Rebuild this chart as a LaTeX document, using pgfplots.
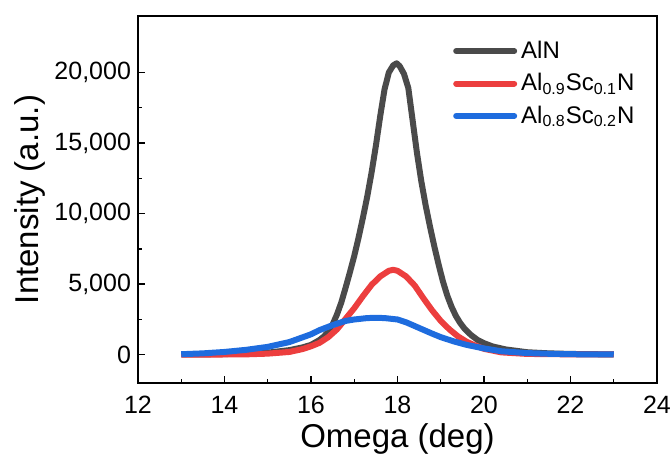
\documentclass[border=0pt]{standalone}
\usepackage{pgfplots}
\pgfplotsset{compat=1.18}
\usepackage{fontspec}
\setmainfont{Liberation Sans}

\definecolor{alnblack}{RGB}{74,74,74}
\definecolor{scred}{RGB}{236,62,62}
\definecolor{scblue}{RGB}{30,108,222}

\pgfplotstableread{
x y
13.0 20
13.5 30
14.0 50
14.5 80
15.0 150
15.5 330
15.8 520
16.0 700
16.2 1050
16.3 1300
16.4 1650
16.5 2150
16.6 2850
16.7 3700
16.8 4750
16.9 5850
17.0 7000
17.1 8300
17.2 9700
17.3 11200
17.4 12900
17.5 14800
17.6 16900
17.7 18800
17.8 20000
17.9 20500
17.98 20650
18.05 20450
18.15 19900
18.25 18900
18.35 16600
18.45 14300
18.55 12300
18.65 10600
18.75 9100
18.85 7700
18.95 6400
19.05 5200
19.15 4200
19.25 3400
19.35 2750
19.45 2250
19.55 1850
19.7 1400
19.85 1050
20.0 820
20.2 590
20.5 380
21.0 180
21.5 100
22.0 60
22.5 40
23.0 30
}\alntable

\pgfplotstableread{
x y
13.0 10
14.0 20
14.5 30
15.0 80
15.5 200
15.8 400
16.0 600
16.2 850
16.4 1250
16.6 1800
16.8 2550
17.0 3300
17.2 4150
17.4 4950
17.6 5550
17.8 5950
17.9 6020
18.0 5950
18.2 5550
18.4 4900
18.6 4000
18.8 3150
19.0 2400
19.2 1800
19.4 1300
19.6 920
19.8 650
20.0 420
20.4 170
21.0 60
22.0 30
23.0 20
}\sconetable

\pgfplotstableread{
x y
13.0 40
13.5 100
14.0 200
14.5 350
15.0 560
15.5 900
16.0 1450
16.2 1750
16.5 2100
16.8 2400
17.0 2500
17.3 2600
17.5 2620
17.7 2600
18.0 2500
18.2 2300
18.5 1900
18.8 1500
19.0 1250
19.3 950
19.6 700
20.0 450
20.4 250
21.0 120
21.5 70
22.0 40
22.5 30
23.0 20
}\sctwotable

\begin{document}
\begin{tikzpicture}
\begin{axis}[
    name=ax,
    scale only axis,
    width=259.5pt, height=183.5pt,
    xmin=12, xmax=24,
    ymin=-2000, ymax=24000,
    xtick={12,14,...,24},
    ytick={0,5000,10000,15000,20000},
    minor x tick num=1,
    minor y tick num=1,
    xtick pos=left, ytick pos=left,
    tick align=inside,
    major tick length=3.5pt,
    minor tick length=2pt,
    axis line style={line width=0.7pt},
    every tick/.style={line width=0.7pt, black},
    scaled y ticks=false,
    /pgf/number format/.cd, 1000 sep={,}, assume math mode=true,
    /pgfplots/.cd,
    ticklabel style={font=\fontsize{12.5}{14}\selectfont},
    xticklabel style={yshift=-3pt},
    xlabel={Omega (deg)},
    ylabel={Intensity (a.u.)},
    label style={font=\fontsize{16.5}{19}\selectfont},
    xlabel style={at={(axis description cs:0.5,-0.152)}, anchor=center},
    ylabel style={at={(axis description cs:-0.208,0.5)}, anchor=center},
    legend style={draw=none, fill=none, at={(0.595,0.955)}, anchor=north west,
        font=\fontsize{12}{14}\selectfont, row sep=2pt,
        /tikz/every odd column/.style={inner xsep=0pt}},
    legend cell align=left,
    legend image code/.code={\draw[#1, line cap=round] (0pt,0pt) -- (29pt,0pt);},
    every axis plot/.append style={line width=3pt, line join=round},
]
\addplot[color=alnblack] table {\alntable};
\addlegendentry{AlN}
\addplot[color=scred] table {\sconetable};
\addlegendentry{Al\textsubscript{0.9}Sc\textsubscript{0.1}N}
\addplot[color=scblue] table {\sctwotable};
\addlegendentry{Al\textsubscript{0.8}Sc\textsubscript{0.2}N}
\end{axis}
\pgfresetboundingbox
\path ([shift={(-69pt,-37pt)}]ax.south west) rectangle ([shift={(6.5pt,8pt)}]ax.north east);
\end{tikzpicture}
\end{document}
